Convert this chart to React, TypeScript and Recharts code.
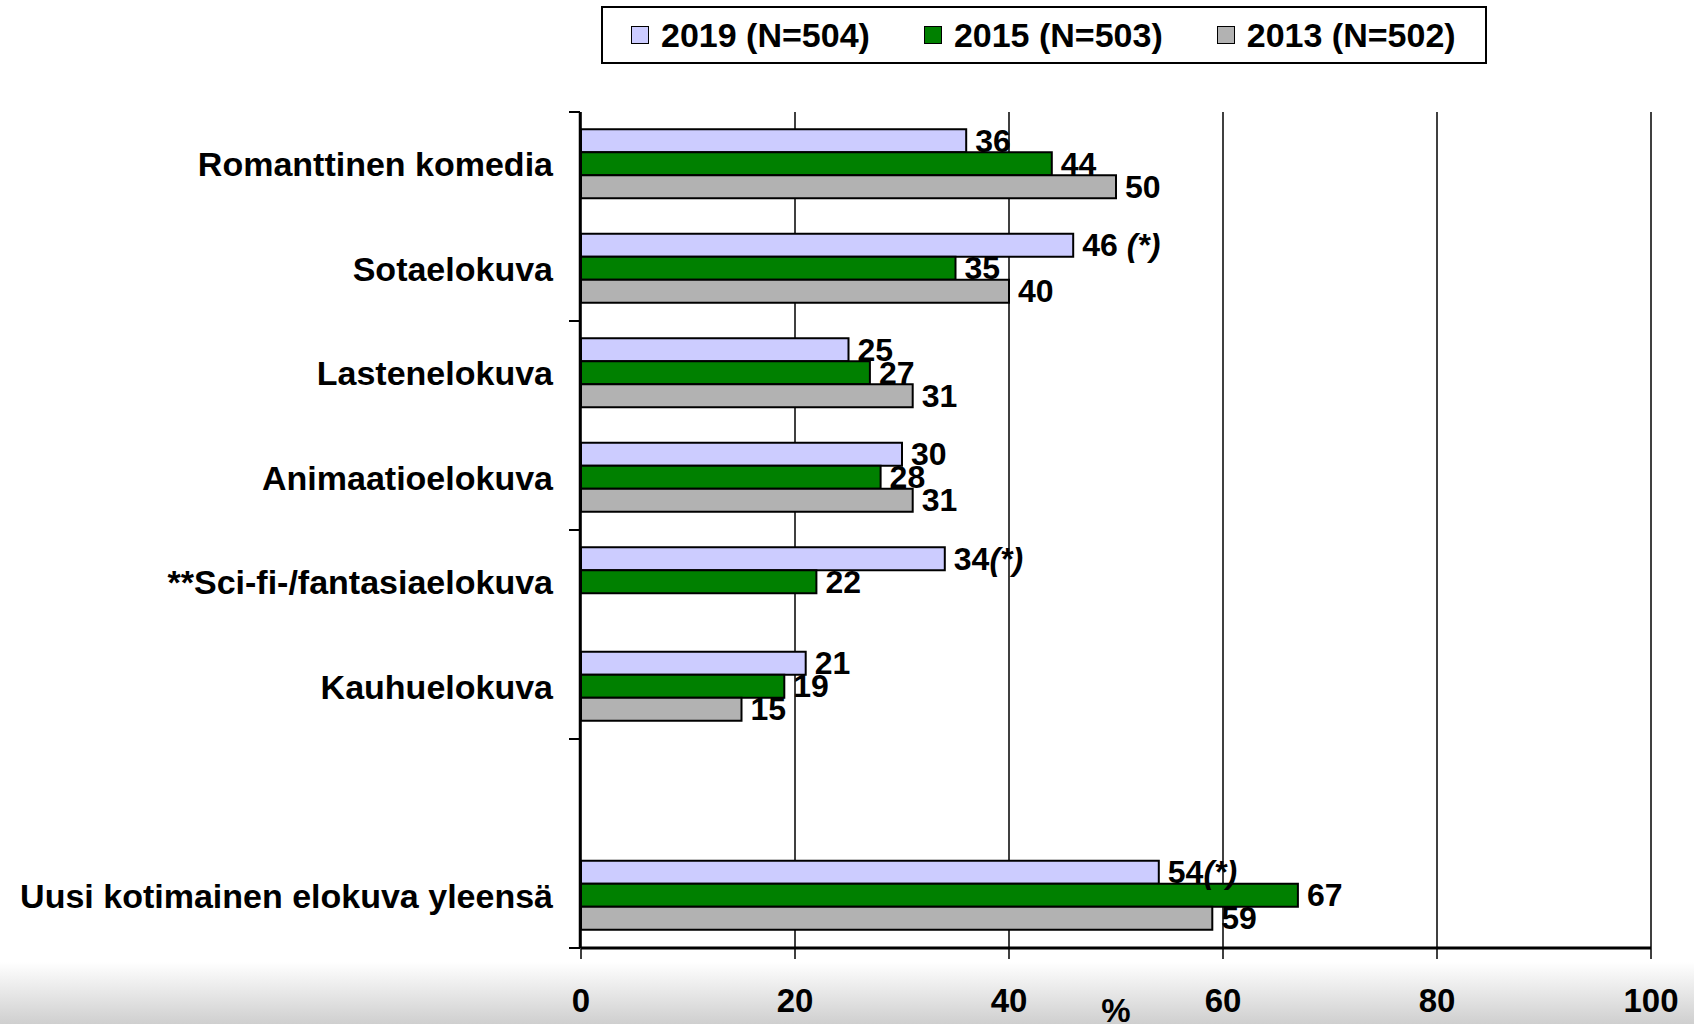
import React from "react";
import {
  BarChart,
  Bar,
  XAxis,
  YAxis,
  CartesianGrid,
  Legend,
  LabelList,
  ReferenceLine,
} from "recharts";

const categories = [
  "Romanttinen komedia",
  "Sotaelokuva",
  "Lastenelokuva",
  "Animaatioelokuva",
  "**Sci-fi-/fantasiaelokuva",
  "Kauhuelokuva",
  "",
  "Uusi kotimainen elokuva yleensä",
];

const v2019 = [36, 46, 25, 30, 34, 21, null, 54];
const v2015 = [44, 35, 27, 28, 22, 19, null, 67];
const v2013 = [50, 40, 31, 31, null, 15, null, 59];
// significance marks shown after the 2019 values
const marks2019 = ["", " (*)", "", "", "(*)", "", "", "(*)"];

const xTicks = [0, 20, 40, 60, 80, 100];
// category-axis tick marks sit on every second slot boundary
const edgeTicks = [0, 2, 4, 6, 8];

const series = [
  { key: "y2019", name: "2019 (N=504)", color: "#CCCCFF" },
  { key: "y2015", name: "2015 (N=503)", color: "#008000" },
  { key: "y2013", name: "2013 (N=502)", color: "#B2B2B2" },
];

const withMark = (v: number | null, m: string) => (v == null ? null : `${v}|${m}`);

const data = categories.map((cat, i) => ({
  cat,
  slot: i + 0.5,
  y2019: v2019[i],
  y2015: v2015[i],
  y2013: v2013[i],
  t2019: withMark(v2019[i], marks2019[i]),
  t2015: withMark(v2015[i], ""),
  t2013: withMark(v2013[i], ""),
}));

const FONT = "'Liberation Sans', Arial, sans-serif";

function ValueLabel(props: any) {
  const { x, y, width, height, value } = props;
  if (value == null) return null;
  const [num, suffix] = String(value).split("|");
  return (
    <text
      x={Number(x) + Number(width) + 9}
      y={Number(y) + Number(height) / 2}
      dominantBaseline="central"
      fontSize={32}
      fontWeight="bold"
      fontFamily={FONT}
      fill="#000"
    >
      {num}
      {suffix ? <tspan fontStyle="italic">{suffix}</tspan> : null}
    </text>
  );
}

function CategoryTick(props: any) {
  const { x, y, payload } = props;
  return (
    <text
      x={x}
      y={y}
      textAnchor="end"
      dominantBaseline="central"
      fontSize={34}
      fontWeight="bold"
      fontFamily={FONT}
      fill="#000"
    >
      {payload.value}
    </text>
  );
}

function LegendBox() {
  return (
    <div
      style={{
        boxSizing: "border-box",
        width: 886,
        height: 58,
        border: "2px solid #000",
        background: "#fff",
        display: "flex",
        alignItems: "center",
        paddingLeft: 28,
        gap: 54,
        fontFamily: FONT,
        fontWeight: "bold",
        fontSize: 34,
        color: "#000",
      }}
    >
      {series.map((s) => (
        <div key={s.key} style={{ display: "flex", alignItems: "center" }}>
          <span
            style={{
              display: "inline-block",
              width: 16,
              height: 16,
              background: s.color,
              border: "1.5px solid #000",
              marginRight: 12,
            }}
          />
          <span>{s.name}</span>
        </div>
      ))}
    </div>
  );
}

export default function App() {
  return (
    <div
      style={{
        position: "absolute",
        top: 0,
        left: 0,
        width: 1694,
        height: 1024,
        background: "#fff",
        overflow: "hidden",
      }}
    >
      <div
        style={{
          position: "absolute",
          left: 0,
          top: 962,
          width: 1694,
          height: 62,
          background: "linear-gradient(to bottom, #ffffff, #cfcfcf)",
        }}
      />
      <div style={{ position: "absolute", top: 0, left: 0 }}>
        <BarChart
          width={1694}
          height={1024}
          data={data}
          layout="vertical"
          margin={{ top: 112, right: 43, bottom: 0, left: 579 }}
          barGap={0}
          barCategoryGap="16.5%"
        >
          <CartesianGrid horizontal={false} stroke="#000" strokeWidth={1.5} />
          <XAxis
            type="number"
            domain={[0, 100]}
            ticks={xTicks}
            height={76}
            axisLine={{ stroke: "#000", strokeWidth: 3 }}
            tickLine={{ stroke: "#000", strokeWidth: 1.5 }}
            tickSize={11}
            tickMargin={30}
            tick={{ fill: "#000", fontSize: 33, fontWeight: "bold", fontFamily: FONT }}
            label={{
              value: "%",
              position: "insideBottom",
              offset: 2,
              fill: "#000",
              fontSize: 33,
              fontWeight: "bold",
              fontFamily: FONT,
            }}
          />
          <YAxis
            yAxisId="edge"
            type="number"
            dataKey="slot"
            domain={[0, 8]}
            allowDataOverflow
            ticks={edgeTicks}
            width={1}
            tickFormatter={() => ""}
            tickSize={11}
            axisLine={{ stroke: "#000", strokeWidth: 2.5 }}
            tickLine={{ stroke: "#000", strokeWidth: 2 }}
          />
          <YAxis
            yAxisId="cat"
            type="category"
            dataKey="cat"
            width={1}
            axisLine={false}
            tickLine={false}
            tickSize={0}
            tickMargin={28}
            interval={0}
            tick={CategoryTick}
          />
          <ReferenceLine yAxisId="edge" y={8} stroke="#000" strokeWidth={2} />
          <Legend
            layout="horizontal"
            verticalAlign="middle"
            align="center"
            wrapperStyle={{ top: 6, left: 601, width: 886, height: 58 }}
            content={() => <LegendBox />}
          />
          <Bar
            yAxisId="cat"
            dataKey="y2019"
            name={series[0].name}
            fill={series[0].color}
            stroke="#000"
            strokeWidth={2}
            isAnimationActive={false}
          >
            <LabelList dataKey="t2019" content={ValueLabel} />
          </Bar>
          <Bar
            yAxisId="cat"
            dataKey="y2015"
            name={series[1].name}
            fill={series[1].color}
            stroke="#000"
            strokeWidth={2}
            isAnimationActive={false}
          >
            <LabelList dataKey="t2015" content={ValueLabel} />
          </Bar>
          <Bar
            yAxisId="cat"
            dataKey="y2013"
            name={series[2].name}
            fill={series[2].color}
            stroke="#000"
            strokeWidth={2}
            isAnimationActive={false}
          >
            <LabelList dataKey="t2013" content={ValueLabel} />
          </Bar>
        </BarChart>
      </div>
    </div>
  );
}
